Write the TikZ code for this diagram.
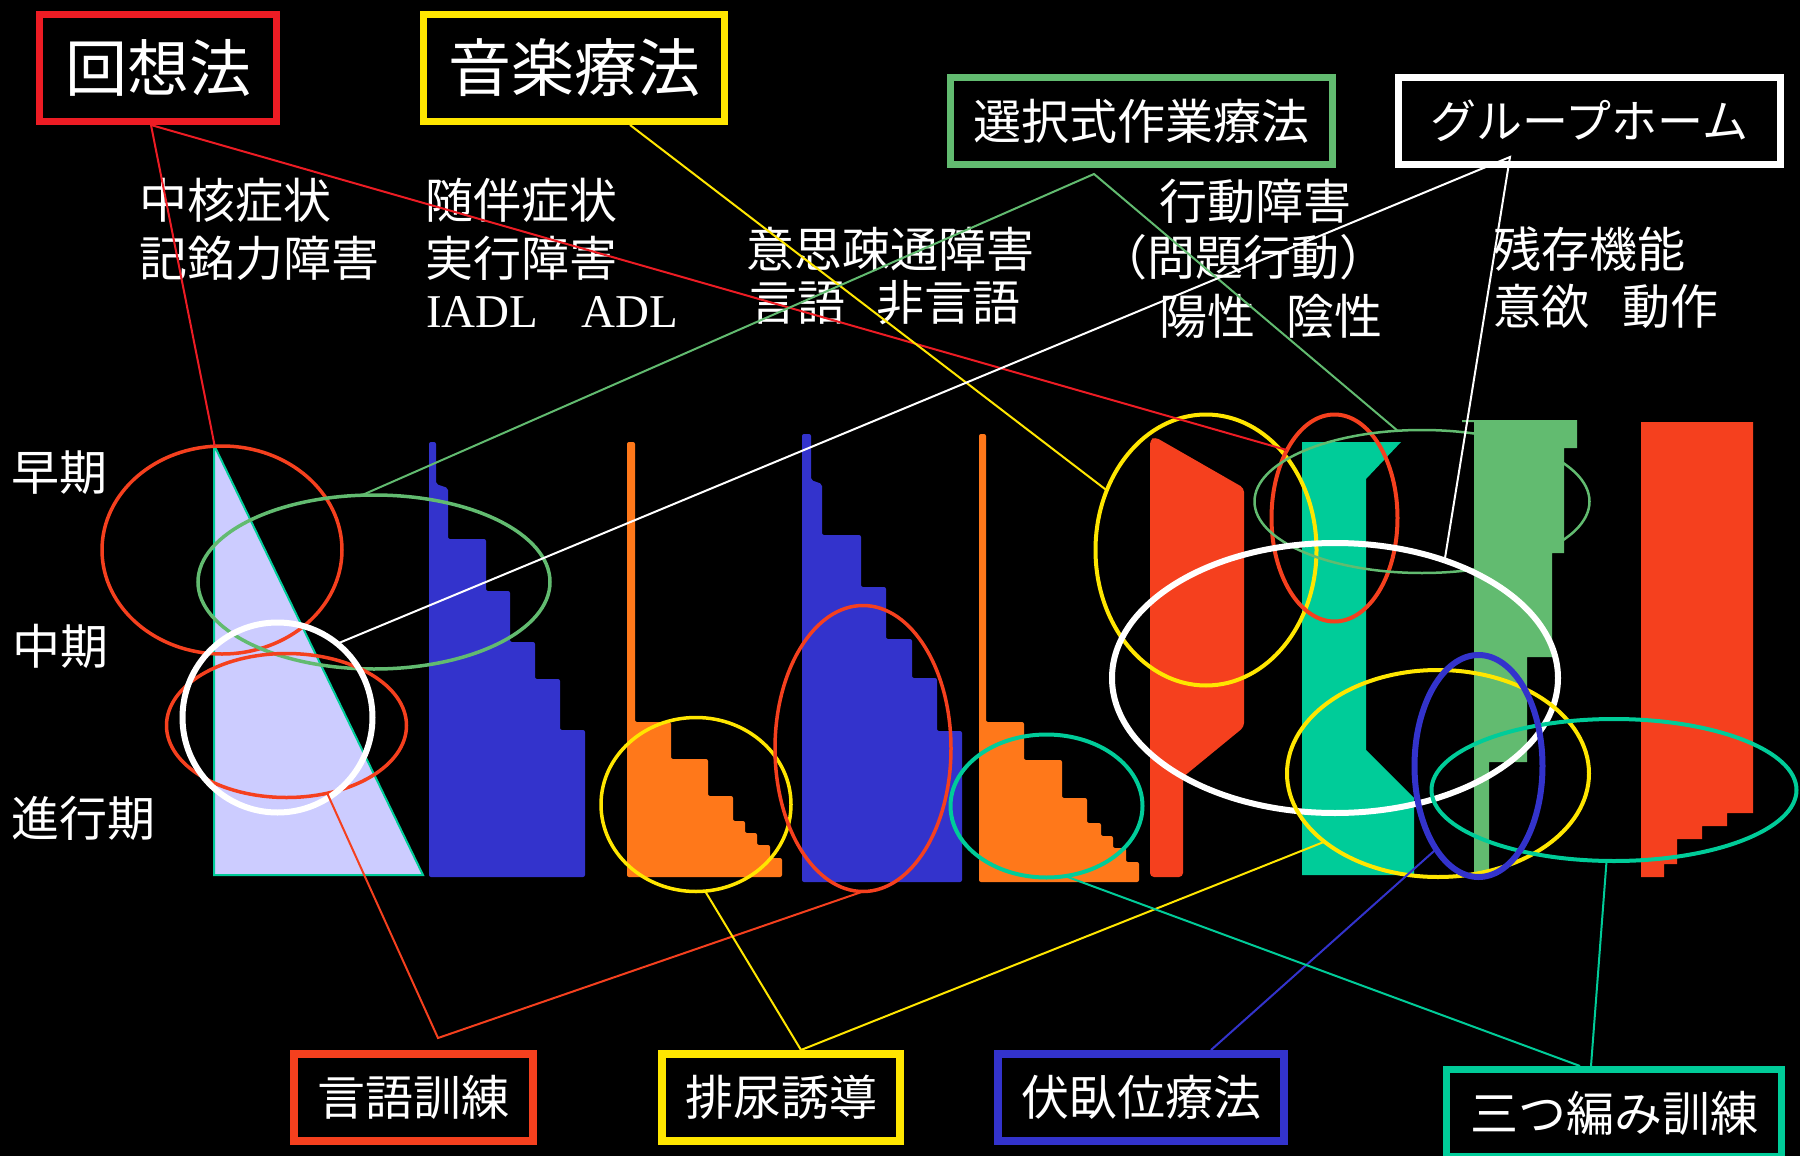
\documentclass[tikz,border=0pt]{standalone}
\usepackage{fontspec}
\setmainfont{Liberation Serif}
\newfontfamily\jp{Noto Sans CJK JP}
\usetikzlibrary{shapes.geometric}
\definecolor{hred}{RGB}{237,28,36}
\definecolor{ored}{RGB}{245,64,30}
\definecolor{yel}{RGB}{255,230,0}
\definecolor{grn}{RGB}{98,187,112}
\definecolor{tealc}{RGB}{0,204,153}
\definecolor{blu}{RGB}{51,51,204}
\definecolor{org}{RGB}{255,120,26}
\definecolor{lav}{RGB}{204,204,255}
\begin{document}
\begin{tikzpicture}[x=1pt,y=-1pt,
  lbl/.style={font=\jp\fontsize{48}{58}\selectfont, text=white, anchor=west, inner sep=0pt},
  tbox/.style={draw, line width=7.5pt, rectangle, inner sep=0pt, outer sep=0pt, text=white, font=\jp\fontsize{48}{58}\selectfont},
  ring/.style={ellipse, draw, inner sep=0pt, outer sep=0pt},
  link/.style={line width=2pt},
  solid shape/.style={rounded corners=2pt}]
\fill[black] (0,0) rectangle (1800,1156);
\useasboundingbox (0,0) rectangle (1800,1156);

% ---------- stage shapes ----------
\path[fill=lav, draw=tealc, line width=2pt] (214,445) -- (214,875) -- (423,875) -- cycle;
\fill[blu, solid shape] (429,442) -- (436,442) -- (436,484) -- (448,488) -- (448,539) -- (486,539) -- (486,591) -- (510,591) -- (510,642) -- (535,642) -- (535,679) -- (560,679) -- (560,730) -- (585,730) -- (585,877) -- (429,877) -- cycle;
\fill[org, solid shape] (627,442) -- (635,442) -- (635,722) -- (671,722) -- (671,759) -- (708,759) -- (708,796) -- (733,796) -- (733,821) -- (745,821) -- (745,833) -- (757,833) -- (757,845) -- (770,845) -- (770,858) -- (782,858) -- (782,877) -- (627,877) -- cycle;
\fill[blu, solid shape] (802,434) -- (811,434) -- (811,480) -- (822,484) -- (822,535) -- (861,535) -- (861,587) -- (886,587) -- (886,639) -- (912,639) -- (912,678) -- (937,678) -- (937,731) -- (962,731) -- (962,882) -- (802,882) -- cycle;
\fill[org, solid shape] (979,434) -- (986,434) -- (986,722) -- (1024,722) -- (1024,760) -- (1062,760) -- (1062,798) -- (1087,798) -- (1087,823) -- (1101,823) -- (1101,836) -- (1113,836) -- (1113,848) -- (1126,848) -- (1126,862) -- (1139,862) -- (1139,882) -- (979,882) -- cycle;
\fill[ored, rounded corners=4pt] (1150,440) -- (1155,437) -- (1244,488) -- (1244,727) -- (1183,777) -- (1183,877) -- (1150,877) -- cycle;
\fill[tealc] (1302,442) -- (1401,442) -- (1366,479) -- (1366,750) -- (1414,798) -- (1414,875) -- (1302,875) -- cycle;
\fill[grn] (1462,420) -- (1577,420) -- (1577,448) -- (1564,448) -- (1564,553) -- (1552,553) -- (1552,657) -- (1527,657) -- (1527,762) -- (1489,762) -- (1489,875) -- (1474,875) -- (1474,422) -- (1462,422) -- cycle;
\fill[ored] (1641,422) -- (1753,422) -- (1753,813) -- (1727,813) -- (1727,826) -- (1702,826) -- (1702,839) -- (1677,839) -- (1677,864) -- (1664,864) -- (1664,877) -- (1641,877) -- cycle;

% ---------- rings ----------
\node[ring, draw=ored, line width=3.5pt, minimum width=240pt, minimum height=208pt] (er1) at (222,550) {};
\node[ring, draw=grn, line width=3.5pt, minimum width=352pt, minimum height=174pt] (eg1) at (374,582) {};
\node[ring, draw=ored, line width=3.5pt, minimum width=240pt, minimum height=144pt] (er2) at (286.5,725.5) {};
\node[ring, draw=white, line width=6pt, minimum width=190pt, minimum height=190pt] (ew1) at (277.5,717.5) {};
\node[ring, draw=yel, line width=3.5pt, minimum width=190pt, minimum height=174pt] (ey1) at (696,804.5) {};
\node[ring, draw=ored, line width=3.5pt, minimum width=176pt, minimum height=286pt] (er3) at (863,748.5) {};
\node[ring, draw=tealc, line width=4pt, minimum width=192pt, minimum height=143pt] (et1) at (1046.5,806) {};
\node[ring, draw=yel, line width=4pt, minimum width=221pt, minimum height=271pt] (ey2) at (1206,550) {};
\node[ring, draw=ored, line width=4pt, minimum width=126pt, minimum height=207pt] (er4) at (1334.5,518) {};
\node[ring, draw=grn, line width=2.5pt, minimum width=335pt, minimum height=143pt] (eg2) at (1422,501.5) {};
\node[ring, draw=white, line width=6pt, minimum width=446pt, minimum height=270pt] (ew2) at (1335,678) {};
\node[ring, draw=yel, line width=4pt, minimum width=302pt, minimum height=207pt] (ey3) at (1438,773.5) {};
\node[ring, draw=tealc, line width=4pt, minimum width=365pt, minimum height=142pt] (et2) at (1614,790) {};
\node[ring, draw=blu, line width=6pt, minimum width=128pt, minimum height=222pt] (eb) at (1478.5,766) {};

% ---------- boxes ----------
\node[tbox, draw=hred, minimum width=237pt, minimum height=107pt, font=\jp\fontsize{62}{70}\selectfont] (b1) at (158,68) {回想法};
\node[tbox, draw=yel, minimum width=301pt, minimum height=107pt, font=\jp\fontsize{63}{70}\selectfont] (b2) at (574,68) {音楽療法};
\node[tbox, draw=grn, minimum width=382pt, minimum height=87pt] (b3) at (1141.5,121) {選択式作業療法};
\node[tbox, draw=white, minimum width=382pt, minimum height=87pt, font=\jp\fontsize{46}{56}\selectfont] (b4) at (1589.5,121) {グループホーム\hspace{19pt}};
\node[tbox, draw=ored, minimum width=239pt, minimum height=87pt] (b5) at (413.5,1097.5) {言語訓練};
\node[tbox, draw=yel, minimum width=238pt, minimum height=87pt] (b6) at (781,1097.5) {排尿誘導};
\node[tbox, draw=blu, minimum width=286pt, minimum height=87pt] (b7) at (1141,1097.5) {伏臥位療法};
\node[tbox, draw=tealc, minimum width=335pt, minimum height=87pt] (b8) at (1614,1113) {三つ編み訓練};

% ---------- labels ----------
\node[lbl] (t1a) at (139,200) {中核症状};
\node[lbl] (t1b) at (139,258) {記銘力障害};
\node[lbl] (t2a) at (425,200) {随伴症状};
\node[lbl] (t2b) at (425,258) {実行障害};
\node[lbl, font=\fontsize{47}{56}\selectfont] (t2c) at (426,312.5) {IADL\hspace{43pt}ADL};
\node[lbl] (t3a) at (746,249) {意思疎通障害};
\node[lbl] (t3b) at (749,302.5) {言語\hspace{31pt}非言語};
\node[lbl] (t4a) at (1159,201) {行動障害};
\node[lbl] (t4b) at (1099,257.5) {（問題行動）};
\node[lbl] (t4c) at (1159,316) {陽性\hspace{31pt}陰性};
\node[lbl] (t5a) at (1493,249) {残存機能};
\node[lbl] (t5b) at (1493,306) {意欲\hspace{33pt}動作};
\node[lbl] (s1) at (11,472.5) {早期};
\node[lbl] (s2) at (12,646) {中期};
\node[lbl] (s3) at (11,818.5) {進行期};

% ---------- connector vertices ----------
\coordinate (j1) at (151,125);
\coordinate (j2) at (630,125);
\coordinate (j3) at (1094,174);
\coordinate (j4) at (1510,157);
\coordinate (j5) at (438,1038);
\coordinate (j6) at (801,1050);
\coordinate (j7) at (1211,1050);
\coordinate (j8a) at (1580,1066);
\coordinate (j8b) at (1591,1066);

% ---------- connectors ----------
\draw[link, hred] (j1) -- (er1.94);
\draw[link, hred] (j1) -- (er4.125);
\draw[link, yel] (j2) -- (ey2.149);
\draw[link, grn] (eg1.98) -- (j3) -- (eg2.109);
\draw[link, white] (ew1.51) -- (j4) -- (ew2.47.5);
\draw[link, ored] (er2.-59) -- (j5) -- (er3.south);
\draw[link, yel] (ey1.-84) -- (j6) -- (ey3.-149);
\draw[link, blu] (j7) -- (eb.-117);
\draw[link, tealc] (et1.-75) -- (j8a);
\draw[link, tealc] (j8b) -- (et2.-96);
\end{tikzpicture}
\end{document}
